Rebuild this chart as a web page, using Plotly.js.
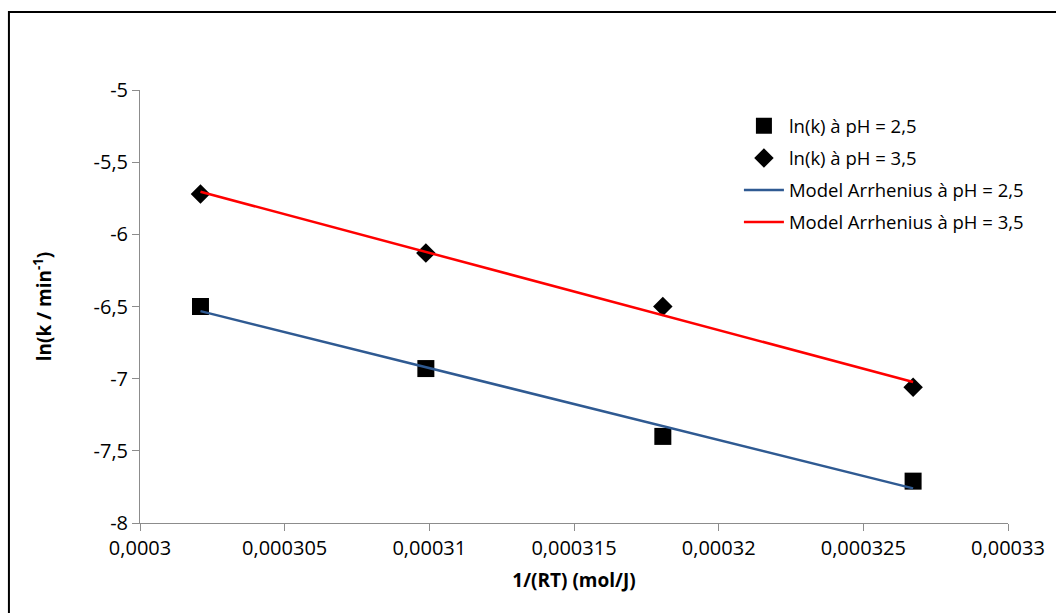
<!DOCTYPE html>
<html>
<head>
<meta charset="utf-8">
<script src="https://cdn.plot.ly/plotly-3.0.1.min.js"></script>
<style>html,body{margin:0;padding:0;background:#fff;}#chart{width:1056px;height:613px;}</style>
</head>
<body>
<div id="chart"></div>
<script>
// 1/(RT) values (mol/J)
const invRT = [0.00030209, 0.00030988, 0.00031807, 0.00032672];
// measured ln(k)
const lnK_pH25 = [-6.50, -6.93, -7.40, -7.71];
const lnK_pH35 = [-5.72, -6.13, -6.50, -7.06];
// Arrhenius model values
const model_pH25 = [-6.532, -6.920, -7.328, -7.760];
const model_pH35 = [-5.705, -6.122, -6.561, -7.023];

const xTicks = [0.0003, 0.000305, 0.00031, 0.000315, 0.00032, 0.000325, 0.00033];
const xTickText = ["0,0003", "0,000305", "0,00031", "0,000315", "0,00032", "0,000325", "0,00033"];
const yTicks = [-8, -7.5, -7, -6.5, -6, -5.5, -5];
const yTickText = ["-8", "-7,5", "-7", "-6,5", "-6", "-5,5", "-5"];

const FONT = "Open Sans, sans-serif";

const traces = [
  {x: invRT, y: lnK_pH25, mode: "markers", name: "ln(k) à pH = 2,5", legendgroup: "a",
   marker: {symbol: "square", size: 17, color: "#000000"}},
  {x: invRT, y: lnK_pH35, mode: "markers", name: "ln(k) à pH = 3,5", legendgroup: "b",
   marker: {symbol: "diamond", size: 15, color: "#000000"}},
  {x: invRT, y: model_pH25, mode: "lines", name: "Model Arrhenius à pH = 2,5", legendgroup: "c",
   line: {color: "#2F5A92", width: 2.5}},
  {x: invRT, y: model_pH35, mode: "lines", name: "Model Arrhenius à pH = 3,5", legendgroup: "d",
   line: {color: "#FF0000", width: 2.5}}
];

const axisCommon = {
  showgrid: false, zeroline: false, showline: true, linecolor: "#8C8C8C", linewidth: 1,
  ticks: "outside", ticklen: 7, tickcolor: "#8C8C8C", tickwidth: 1,
  tickfont: {family: FONT, size: 20, color: "#000"}
};

const layout = {
  width: 1056, height: 613,
  margin: {l: 140, r: 48, t: 90, b: 90},
  paper_bgcolor: "#fff", plot_bgcolor: "#fff",
  showlegend: true,
  legend: {x: 0.69, y: 0.96, xanchor: "left", yanchor: "top",
           font: {family: FONT, size: 18.5, color: "#000"}, traceorder: "grouped", tracegroupgap: 5, itemwidth: 40,
           bgcolor: "rgba(0,0,0,0)"},
  xaxis: Object.assign({}, axisCommon, {
    range: [0.0003, 0.00033], tickvals: xTicks, ticktext: xTickText,
    title: {text: "<b>1/(RT) (mol/J)</b>", font: {family: FONT, size: 19, color: "#000"}, standoff: 13}
  }),
  yaxis: Object.assign({}, axisCommon, {
    range: [-8, -5], tickvals: yTicks, ticktext: yTickText,
    title: {text: "<b>ln(k / min<sup>-1</sup>)</b>", font: {family: FONT, size: 19, color: "#000"}, standoff: 36}
  }),
  shapes: [{type: "rect", xref: "paper", yref: "paper",
            x0: -0.151, x1: 1.1, y0: -0.3, y1: 1.180,
            line: {color: "#000", width: 2}, fillcolor: "rgba(0,0,0,0)", layer: "below"}]
};

Plotly.newPlot("chart", traces, layout, {displayModeBar: false, staticPlot: true});
</script>
</body>
</html>
